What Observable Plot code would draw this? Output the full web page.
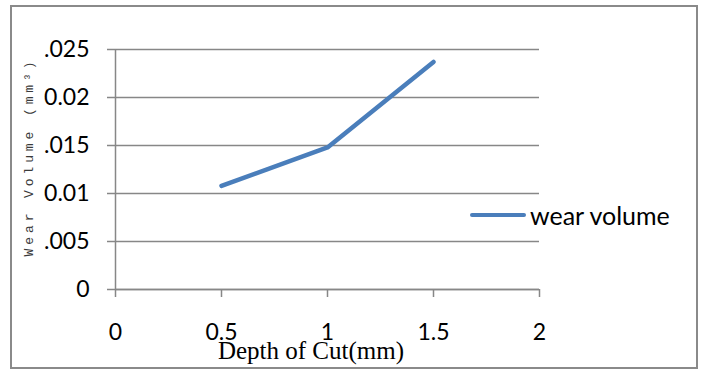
<!DOCTYPE html>
<html>
<head>
<meta charset="utf-8">
<script src="https://cdn.jsdelivr.net/npm/d3@7"></script>
<script src="https://cdn.jsdelivr.net/npm/@observablehq/plot@0.6"></script>
<style>
  html, body { margin: 0; padding: 0; background: #fff; }
  #chart { position: relative; width: 704px; height: 370px; overflow: hidden; background: #fff; }
  #chart svg { position: absolute; left: 0; top: 0; }
  .frame { position: absolute; left: 10px; top: 5px; width: 684px; height: 360px;
           border: 2px solid #8a8a8a; box-sizing: content-box; }
  .ytitle { position: absolute; left: 29px; top: 157px; transform: translate(-50%, -50%) rotate(-90deg);
            font-family: "Liberation Mono", monospace; font-size: 13px; letter-spacing: 3.9px;
            color: #3a3a3a; background: #fff; padding: 4px 14px; white-space: nowrap; line-height: 1; }
  .xtitle { position: absolute; left: 311px; top: 337px; transform: translateX(-50%);
            font-family: "Liberation Serif", serif; font-size: 25px; color: #000; white-space: nowrap; line-height: 1.1; }
  .legend { position: absolute; left: 470px; top: 200px; display: flex; align-items: center;
            font-family: Lato, sans-serif; font-size: 25px; color: #000; white-space: nowrap; }
  .legend .swatch { width: 56px; height: 4.5px; border-radius: 3px; background: #4a7ebb; margin-right: 4px; }
</style>
</head>
<body>
<div id="chart">
  <div class="frame"></div>
</div>
<script>
// Wear volume measured at each depth of cut
const depth = [0.5, 1, 1.5];
const wearVolume = [0.0108, 0.0148, 0.0237];
const seriesName = "wear volume";

// Axis ticks and their printed labels
const xTicks = [0, 0.5, 1, 1.5, 2];
const xTickLabels = ["0", "0.5", "1", "1.5", "2"];
const yTicks = [0, 0.005, 0.01, 0.015, 0.02, 0.025];
const yTickLabels = ["0", ".005", "0.01", ".015", "0.02", ".025"];

const xTitle = "Depth of Cut(mm)";
const yTitle = "Wear Volume (mm\u00b3)";

const rows = depth.map((d, i) => ({depth: d, wear: wearVolume[i]}));
const gray = "#878787";

const chart = Plot.plot({
  width: 704,
  height: 370,
  marginLeft: 115,
  marginRight: 165,
  marginTop: 49,
  marginBottom: 81,
  x: {domain: [0, 2]},
  y: {domain: [0, 0.025]},
  style: {fontFamily: "Lato, sans-serif", fontSize: "23px", color: "#000", background: "transparent", overflow: "visible"},
  marks: [
    Plot.gridY(yTicks, {stroke: gray, strokeOpacity: 1, strokeWidth: 1.5}),
    Plot.axisY(yTicks, {
      tickSize: 8, tickPadding: 18, stroke: gray, strokeWidth: 1.5, label: null,
      tickFormat: (d) => yTickLabels[yTicks.indexOf(d)]
    }),
    Plot.axisX(xTicks, {
      tickSize: 8, tickPadding: 26, stroke: gray, strokeWidth: 1.5, label: null,
      tickFormat: (d) => xTickLabels[xTicks.indexOf(d)]
    }),
    Plot.ruleX([0], {stroke: gray, strokeWidth: 1.5}),
    Plot.ruleY([0], {stroke: gray, strokeWidth: 1.5}),
    Plot.line(rows, {x: "depth", y: "wear", stroke: "#4a7ebb", strokeWidth: 4.5,
                     strokeLinecap: "round", strokeLinejoin: "round"})
  ]
});

const root = document.getElementById("chart");
root.appendChild(chart);

const yt = document.createElement("div");
yt.className = "ytitle";
yt.textContent = yTitle;
root.appendChild(yt);

const xt = document.createElement("div");
xt.className = "xtitle";
xt.textContent = xTitle;
root.appendChild(xt);

const lg = document.createElement("div");
lg.className = "legend";
lg.innerHTML = '<div class="swatch"></div><span></span>';
lg.querySelector("span").textContent = seriesName;
root.appendChild(lg);
</script>
</body>
</html>
